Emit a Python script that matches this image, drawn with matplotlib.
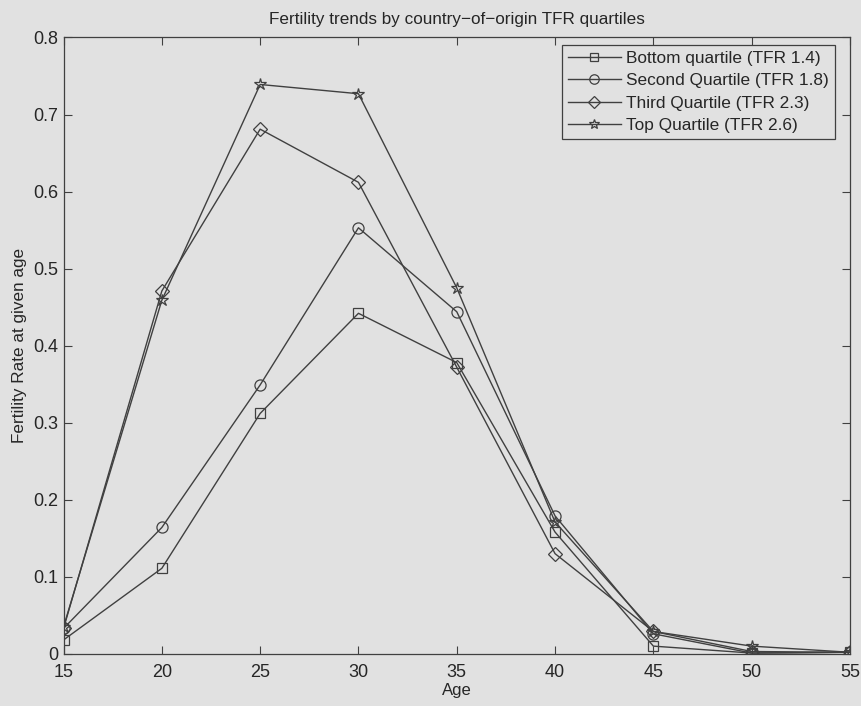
import matplotlib
matplotlib.use("Agg")
import matplotlib.pyplot as plt

ages = [15, 20, 25, 30, 35, 40, 45, 50, 55]
bottom_q = [0.018, 0.111, 0.312, 0.442, 0.378, 0.158, 0.010, 0.001, 0.002]
second_q = [0.033, 0.164, 0.349, 0.553, 0.444, 0.179, 0.026, 0.001, 0.002]
third_q = [0.033, 0.471, 0.681, 0.612, 0.372, 0.130, 0.029, 0.003, 0.002]
top_q = [0.035, 0.459, 0.739, 0.727, 0.475, 0.171, 0.029, 0.010, 0.002]
labels = ["Bottom quartile (TFR 1.4)", "Second Quartile (TFR 1.8)",
          "Third Quartile (TFR 2.3)", "Top Quartile (TFR 2.6)"]
markers = ["s", "o", "D", "*"]
xticks = [15, 20, 25, 30, 35, 40, 45, 50, 55]
yticks = [0, 0.1, 0.2, 0.3, 0.4, 0.5, 0.6, 0.7, 0.8]
ytick_labels = ["0", "0.1", "0.2", "0.3", "0.4", "0.5", "0.6", "0.7", "0.8"]

plt.rcParams['font.family'] = ['Liberation Sans', 'DejaVu Sans']
bg = '#e1e1e1'
ink = '#404040'
txt = '#262626'

fig = plt.figure(figsize=(8.61, 7.06), dpi=100, facecolor=bg)
ax = fig.add_axes([0.0738, 0.0739, 0.9134, 0.873])
ax.set_facecolor(bg)

series = [bottom_q, second_q, third_q, top_q]
sizes = [7.5, 8, 7, 9]
for vals, lab, m, ms in zip(series, labels, markers, sizes):
    ax.plot(ages, vals, color=ink, linewidth=1.0, marker=m, markersize=ms,
            markerfacecolor='none', markeredgecolor=ink, markeredgewidth=0.9,
            label=lab)

ax.set_xlim(15, 55)
ax.set_ylim(0, 0.8)
ax.set_xticks(xticks)
ax.set_yticks(yticks)
ax.set_yticklabels(ytick_labels)
ax.tick_params(direction='in', length=6, width=0.8, colors=ink, labelcolor=txt,
               labelsize=13, top=True, right=True, pad=4)
ax.tick_params(axis='x', pad=7)
for s in ax.spines.values():
    s.set_color(ink)
    s.set_linewidth(0.9)

ax.set_title("Fertility trends by country-of-origin TFR quartiles".replace('-', '\u2212'),
             fontsize=12.3, color=txt, pad=10)
ax.set_xlabel("Age", fontsize=12, color=txt, labelpad=2)
ax.set_ylabel("Fertility Rate at given age", fontsize=12.3, color=txt, labelpad=4)

leg = ax.legend(loc='upper right', bbox_to_anchor=(0.981, 0.988), fontsize=12.4,
                frameon=True, fancybox=False, edgecolor=ink, facecolor=bg,
                framealpha=1, handlelength=3.1, handletextpad=0.3,
                labelspacing=0.42, borderpad=0.35, borderaxespad=0,
                markerscale=0.85)
leg.get_frame().set_linewidth(0.9)
for t in leg.get_texts():
    t.set_color(txt)

fig.savefig("out.png", dpi=100, facecolor=bg)
